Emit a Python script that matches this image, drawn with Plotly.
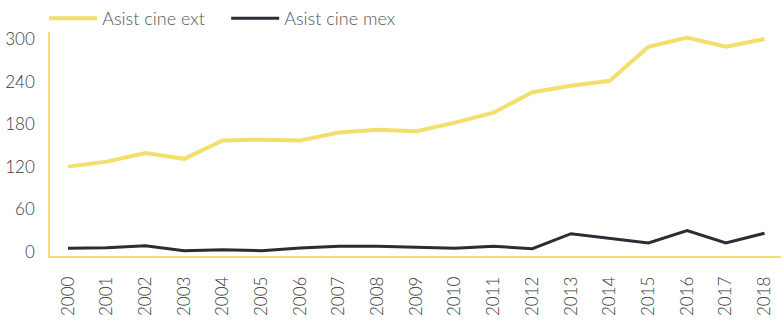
import plotly.graph_objects as go

# Annual cinema attendance (millions), 2000–2018
years = list(range(2000, 2019))
asist_ext = [120, 127, 139, 131, 157, 158, 157, 168, 172, 170,
             182, 196, 225, 234, 241, 289, 302, 289, 300]
asist_mex = [5, 5.6, 8.5, 1.4, 2.8, 1.4, 5.2, 7.6, 7.6, 6.2,
             4.8, 7.6, 4.3, 25.4, 18.9, 12.3, 29.6, 12.3, 26]
y_ticks = [0, 60, 120, 180, 240, 300]

YELLOW = "#F4DE6C"
DARK = "#2C2B36"
FONT = "Lato"

fig = go.Figure()
fig.add_trace(go.Scatter(x=years, y=asist_ext, mode="lines", name="Asist cine ext",
                         line=dict(color=YELLOW, width=4)))
fig.add_trace(go.Scatter(x=years, y=asist_mex, mode="lines", name="Asist cine mex",
                         line=dict(color=DARK, width=3)))

fig.update_layout(
    width=781, height=326,
    margin=dict(l=50, r=0, t=32, b=70, autoexpand=False),
    paper_bgcolor="white", plot_bgcolor="white",
    font=dict(family=FONT, size=17, color="#3a3a3a", weight=300),
    legend=dict(orientation="h", x=-0.008, xanchor="left",
                yref="container", y=1.0, yanchor="top",
                font=dict(family=FONT, size=18, color="#555555", weight=300),
                itemwidth=48, entrywidth=119, entrywidthmode="pixels",
                tracegroupgap=0, bgcolor="rgba(0,0,0,0)"),
    showlegend=True,
)
fig.update_xaxes(
    range=[1999.535, 2018.425], tickmode="array", tickvals=years,
    ticktext=[str(y) for y in years], tickangle=-90,
    showgrid=False, zeroline=False, showline=True, linecolor=YELLOW, linewidth=1.5,
    ticks="", ticklabelstandoff=12,
)
fig.update_yaxes(
    range=[-6.1, 309.9], tickmode="array", tickvals=y_ticks,
    showgrid=False, zeroline=False, showline=True, linecolor=YELLOW, linewidth=1.5,
    ticks="", ticklabelstandoff=10,
)

fig.write_html("out.html")
